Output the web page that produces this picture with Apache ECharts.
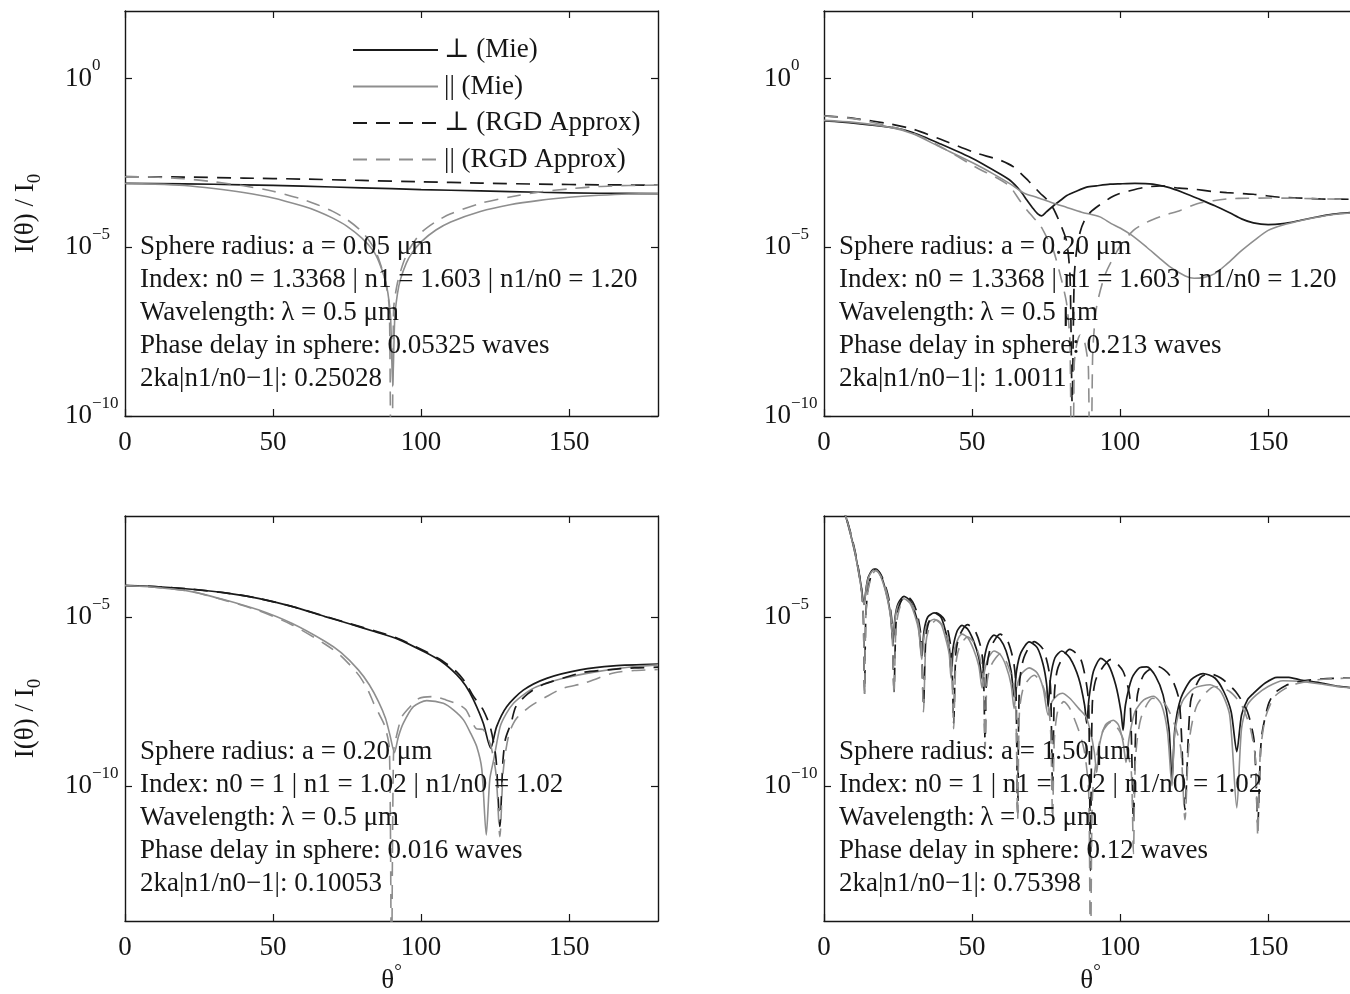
<!DOCTYPE html>
<html><head><meta charset="utf-8">
<script src="https://cdn.jsdelivr.net/npm/echarts@6/dist/echarts.min.js"></script>
<style>html,body{margin:0;padding:0;background:#fff}#c{width:1350px;height:994px}</style>
</head><body><div id="c"></div>
<script>
// ---------------- DATA (theta in degrees, value given as log10 of I/I0) ----------------
const seriesNames = ['⊥ (Mie)', '|| (Mie)', '⊥ (RGD Approx)', '|| (RGD Approx)'];
const xTicks = [0, 50, 100, 150];
const yTicksTop = [1e-10, 1e-5, 1e0];
const yTicksBottom = [1e-10, 1e-5];

const annotTexts = [
  ['Sphere radius: a = 0.05 μm', 'Index: n0 = 1.3368 | n1 = 1.603 | n1/n0 = 1.20', 'Wavelength:\u2009λ = 0.5 μm', 'Phase delay in sphere: 0.05325 waves', '2ka|n1/n0\u22121|: 0.25028'],
  ['Sphere radius: a = 0.20 μm', 'Index: n0 = 1.3368 | n1 = 1.603 | n1/n0 = 1.20', 'Wavelength:\u2009λ = 0.5 μm', 'Phase delay in sphere: 0.213 waves', '2ka|n1/n0\u22121|: 1.0011'],
  ['Sphere radius: a = 0.20 μm', 'Index: n0 = 1 | n1 = 1.02 | n1/n0 = 1.02', 'Wavelength:\u2009λ = 0.5 μm', 'Phase delay in sphere: 0.016 waves', '2ka|n1/n0\u22121|: 0.10053'],
  ['Sphere radius: a = 1.50 μm', 'Index: n0 = 1 | n1 = 1.02 | n1/n0 = 1.02', 'Wavelength:\u2009λ = 0.5 μm', 'Phase delay in sphere: 0.12 waves', '2ka|n1/n0\u22121|: 0.75398']
];

// Panel 1: a = 0.05 um, n1/n0 = 1.20
const p1PerpMie = [[0,-3.11],[20,-3.12],[40,-3.15],[60,-3.19],[80,-3.24],[100,-3.29],[120,-3.33],[140,-3.37],[160,-3.40],[180,-3.41]];
const p1ParMie = [[0,-3.11],[10,-3.13],[20,-3.17],[30,-3.26],[40,-3.38],[50,-3.54],[60,-3.78],[65,-3.93],[70,-4.13],[75,-4.38],[80,-4.73],[83.8,-5.1],[85.8,-5.44],[87.8,-5.95],[88.8,-6.37],[89.7,-7.1],[90.4,-9.13],[91.1,-7.1],[92,-6.38],[93,-5.96],[95,-5.47],[97,-5.16],[100,-4.84],[105,-4.49],[110,-4.25],[120,-3.94],[130,-3.74],[140,-3.61],[150,-3.52],[160,-3.46],[170,-3.42],[180,-3.41]];
const p1PerpRGD = [[0,-2.91],[20,-2.92],[40,-2.95],[60,-2.98],[80,-3.02],[100,-3.06],[120,-3.10],[140,-3.13],[160,-3.15],[180,-3.16]];
const p1ParRGD = [[0,-2.91],[10,-2.92],[20,-2.97],[30,-3.06],[40,-3.18],[50,-3.34],[60,-3.58],[65,-3.74],[70,-3.93],[75,-4.18],[80,-4.54],[84,-5.01],[86,-5.43],[88,-6.04],[89.3,-6.85],[90,-16],[90.7,-6.86],[92,-6.06],[94,-5.46],[96,-5.06],[100,-4.57],[105,-4.24],[110,-4.01],[120,-3.70],[130,-3.51],[140,-3.36],[150,-3.27],[160,-3.20],[170,-3.17],[180,-3.16]];

// Panel 2: a = 0.20 um, n1/n0 = 1.20
const p2PerpMie = [[0,-1.26],[10,-1.32],[22.5,-1.45],[30,-1.6],[39.4,-1.94],[50.7,-2.39],[59.5,-2.83],[63,-3.03],[66.2,-3.32],[68.5,-3.6],[70.7,-3.86],[72.3,-4.02],[73.5,-4.07],[75,-3.96],[77.5,-3.77],[80,-3.6],[82,-3.47],[85,-3.35],[88.7,-3.22],[92,-3.18],[96.6,-3.13],[100,-3.12],[105,-3.11],[111,-3.13],[116,-3.22],[121,-3.37],[126,-3.55],[132,-3.77],[137,-3.98],[141,-4.16],[145,-4.28],[150,-4.33],[155,-4.30],[160,-4.22],[166,-4.11],[172,-4.02],[180,-3.96]];
const p2ParMie = [[0,-1.24],[10,-1.3],[22.5,-1.45],[30,-1.64],[39.4,-2.04],[50.7,-2.52],[57,-2.82],[63,-3.13],[67.6,-3.4],[71.8,-3.52],[77,-3.68],[82,-3.82],[87,-3.96],[93.2,-4.1],[97,-4.3],[100,-4.43],[104,-4.65],[109,-5.0],[113,-5.3],[117,-5.59],[122,-5.85],[125,-5.92],[128,-5.9],[132,-5.78],[136,-5.5],[141,-5.1],[146,-4.75],[150,-4.5],[155,-4.34],[160,-4.23],[166,-4.12],[172,-4.03],[180,-3.97]];
const p2PerpRGD = [[0,-1.11],[10,-1.18],[22.5,-1.35],[30,-1.5],[39.4,-1.8],[50.7,-2.19],[59.5,-2.42],[64,-2.62],[69,-3.03],[73,-3.4],[75.2,-3.58],[77.5,-3.86],[80.3,-4.41],[82,-4.85],[83.1,-5.9],[83.8,-9.6],[84.5,-5.9],[85.3,-5.1],[86.5,-4.55],[88,-4.2],[90,-3.96],[92.7,-3.77],[97,-3.52],[99.4,-3.42],[102.3,-3.35],[108,-3.23],[113.5,-3.18],[120,-3.25],[125,-3.28],[131.5,-3.35],[136,-3.38],[145,-3.43],[154,-3.52],[160,-3.54],[168,-3.57],[180,-3.58]];
const p2ParRGD = [[0,-1.11],[10,-1.19],[22.5,-1.42],[30,-1.62],[39.4,-2.02],[50.7,-2.6],[59.5,-3.0],[62.8,-3.2],[66,-3.6],[69,-3.95],[73,-4.35],[75.2,-4.7],[77.5,-5.1],[80.3,-6.0],[82,-6.7],[83.1,-7.9],[83.8,-16],[84.5,-8.5],[85.3,-7.9],[86.5,-7.6],[88,-7.8],[89.3,-8.6],[90,-16],[90.7,-8.3],[92,-6.8],[95,-5.8],[100,-4.97],[104.5,-4.5],[109,-4.26],[114.7,-4.06],[120.3,-3.91],[126,-3.71],[131.5,-3.62],[137,-3.56],[143,-3.55],[150,-3.54],[160,-3.55],[170,-3.57],[180,-3.58]];

// Panel 3: a = 0.20 um, n1/n0 = 1.02
const p3PerpMie = [[0,-4.06],[10,-4.09],[22.5,-4.17],[35,-4.29],[45,-4.44],[56,-4.67],[67.6,-4.98],[76,-5.2],[84.5,-5.43],[92,-5.64],[101.4,-6.04],[107,-6.32],[112,-6.7],[115,-7.02],[117.7,-7.45],[121,-8.14],[123.5,-8.88],[125.5,-8.24],[128.9,-7.65],[134.5,-7.16],[142.4,-6.81],[153.7,-6.56],[165,-6.44],[180,-6.39]];
const p3ParMie = [[0,-4.06],[10,-4.11],[22.5,-4.24],[33.8,-4.49],[45,-4.78],[56.3,-5.18],[67.6,-5.72],[73,-6.05],[78.8,-6.56],[82.5,-7.0],[85.6,-7.5],[88,-8.0],[89.5,-8.5],[91,-9.01],[92.3,-8.55],[94,-8.14],[97.4,-7.65],[101.9,-7.47],[107.5,-7.55],[111,-7.75],[114.3,-8.04],[116.8,-8.45],[118.8,-8.84],[120.5,-9.5],[122,-11.45],[123.2,-9.8],[124.5,-9.23],[126.7,-8.24],[128.8,-7.85],[131.2,-7.55],[135,-7.27],[139,-7.06],[148,-6.81],[159.4,-6.61],[170,-6.48],[180,-6.41]];
const p3PerpRGD = [[0,-4.06],[10,-4.09],[22.5,-4.17],[35,-4.29],[45,-4.44],[56,-4.67],[67.6,-4.97],[76,-5.19],[84.5,-5.41],[92,-5.62],[101.4,-6.01],[107,-6.28],[112,-6.62],[115,-6.94],[117.7,-7.35],[121,-7.75],[123.5,-8.3],[125.3,-9.2],[126.6,-11.2],[127.6,-9.3],[128.5,-8.6],[130.4,-8.13],[132,-7.65],[136,-7.27],[141,-7.0],[148,-6.8],[155,-6.63],[164,-6.55],[172,-6.5],[180,-6.48]];
const p3ParRGD = [[0,-4.06],[10,-4.11],[22.5,-4.24],[33.8,-4.5],[45,-4.8],[56.3,-5.22],[67.6,-5.8],[73,-6.15],[78.8,-6.7],[82,-7.15],[84,-7.55],[86,-7.9],[87.8,-8.24],[89.3,-8.9],[90,-16],[90.7,-9.0],[92,-8.4],[93.5,-7.95],[96.3,-7.65],[99.4,-7.4],[104,-7.35],[108.4,-7.45],[113,-7.6],[115.2,-7.75],[118.6,-8.3],[121,-8.33],[123.5,-8.8],[125.3,-9.65],[126.6,-11.5],[127.6,-9.7],[128.5,-9.0],[129.9,-8.4],[132.2,-8.0],[136.7,-7.65],[142.4,-7.35],[148,-7.1],[154.8,-6.96],[165,-6.65],[172,-6.58],[180,-6.55]];

// Panel 4: a = 1.50 um, n1/n0 = 1.02
const p4PerpMie = [[0,-1.05],[2,-1.15],[4,-1.35],[6,-1.7],[7.3,-2.0],[9,-2.55],[10.5,-3.1],[11.5,-3.55],[12.5,-4.05],[13.5,-4.62],[14.3,-4.1],[15,-3.8],[16.9,-3.57],[18.5,-3.65],[20,-3.95],[21.5,-4.45],[22.5,-4.95],[23.3,-5.71],[24,-5.0],[25,-4.6],[27,-4.38],[29,-4.5],[30.5,-4.8],[32,-5.3],[33,-6.15],[33.8,-5.4],[35,-5.0],[37.2,-4.87],[39.5,-5.0],[41,-5.4],[42.3,-5.9],[42.9,-6.6],[43.6,-5.9],[45,-5.4],[46.6,-5.24],[48.5,-5.35],[50.5,-5.7],[52.3,-6.2],[53.4,-6.83],[54.2,-6.2],[55.5,-5.75],[57.4,-5.53],[59.5,-5.65],[61.5,-6.0],[63.2,-6.6],[64.2,-7.36],[65,-6.6],[66.5,-6.05],[69.3,-5.73],[72,-5.9],[74,-6.4],[75.2,-7.0],[75.7,-7.65],[76.5,-6.8],[78,-6.2],[80.3,-6.0],[83,-6.2],[86,-6.8],[88,-7.6],[88.7,-8.14],[89.5,-7.4],[91,-6.6],[93.5,-6.22],[96,-6.4],[98.5,-7.0],[100.3,-7.8],[101,-8.35],[101.8,-7.6],[104,-6.8],[106.5,-6.5],[109,-6.47],[112,-6.75],[114.5,-7.3],[116.5,-8.3],[117.5,-9.82],[118.5,-8.3],[120.5,-7.4],[124,-6.85],[128,-6.67],[132,-6.8],[135,-7.2],[137.5,-7.8],[139.4,-8.98],[141,-7.9],[143,-7.45],[145,-7.26],[149,-6.95],[153,-6.78],[157,-6.78],[161,-6.86],[168,-6.95],[174,-7.05],[180,-7.1]];
const p4ParMie = [[0,-1.05],[2,-1.15],[4,-1.35],[6,-1.7],[7.3,-2.0],[9,-2.56],[10.5,-3.12],[11.5,-3.58],[12.5,-4.1],[13.5,-4.62],[14.3,-4.12],[15,-3.83],[16.9,-3.6],[18.5,-3.68],[20,-3.99],[21.5,-4.5],[22.5,-5.0],[23.3,-5.75],[24,-5.05],[25,-4.66],[27,-4.45],[29,-4.58],[30.5,-4.9],[32,-5.4],[33,-6.25],[33.8,-5.55],[35,-5.18],[37.2,-5.06],[39.5,-5.2],[41,-5.6],[42.3,-6.1],[42.9,-6.8],[43.6,-6.15],[45,-5.7],[46.6,-5.5],[48.5,-5.6],[50.5,-5.95],[52.3,-6.45],[53.4,-7.1],[54.2,-6.6],[55.5,-6.2],[57.4,-6.0],[59.5,-6.1],[61.5,-6.45],[63.2,-7.0],[64.2,-7.7],[65,-7.1],[66.5,-6.7],[69.3,-6.5],[72,-6.65],[74,-7.1],[75.7,-7.9],[77,-7.5],[79,-7.3],[80.5,-7.25],[83,-7.4],[86,-7.7],[88.5,-7.95],[90,-8.4],[91.3,-9.0],[92.1,-9.6],[93,-8.8],[95,-8.2],[97.7,-8.05],[99.5,-8.2],[101,-8.7],[102,-9.3],[103,-8.6],[105,-7.8],[108,-7.45],[111.3,-7.34],[114,-7.6],[116,-8.4],[117.5,-10.0],[118.5,-8.4],[121,-7.5],[125,-7.1],[130.4,-7.0],[134,-7.2],[137,-7.9],[139.4,-10.65],[141,-8.3],[143,-7.6],[146,-7.3],[150,-7.05],[155,-6.88],[161,-6.9],[168,-6.98],[174,-7.06],[180,-7.1]];
const p4PerpRGD = [[0,-1.0],[2,-1.1],[4,-1.3],[6,-1.65],[7.3,-1.98],[9,-2.5],[10.5,-3.05],[11.7,-3.6],[12.7,-4.2],[13.3,-5.0],[13.7,-7.25],[14.1,-5.0],[14.8,-4.2],[16,-3.75],[17.5,-3.57],[19,-3.7],[20.5,-4.0],[22,-4.5],[23,-5.2],[23.65,-7.2],[24.3,-5.2],[25.3,-4.7],[26.5,-4.45],[28,-4.38],[30,-4.55],[31.5,-4.9],[32.8,-5.6],[33.6,-7.65],[34.4,-5.6],[35.6,-5.1],[38,-4.87],[40.5,-5.05],[42,-5.45],[43.1,-6.1],[43.8,-8.14],[44.5,-6.1],[45.7,-5.55],[48.5,-5.22],[51,-5.4],[53,-5.9],[53.8,-6.5],[54.4,-8.64],[55,-6.5],[56.3,-5.9],[59.5,-5.5],[62,-5.7],[64,-6.3],[64.8,-7.0],[65.4,-10.8],[66,-7.0],[67.5,-6.2],[71,-5.72],[74,-5.95],[76,-6.6],[76.6,-7.3],[77.2,-10.2],[77.8,-7.3],[79,-6.5],[83,-5.95],[86.5,-6.2],[88.5,-6.9],[89.4,-7.6],[90,-12.5],[90.6,-7.6],[92,-6.8],[97,-6.25],[101,-6.6],[103.3,-7.4],[104.5,-11],[105.7,-7.4],[108,-6.7],[112.5,-6.45],[117,-6.75],[120,-7.5],[121.9,-10.7],[123.8,-7.5],[127,-6.8],[130,-6.67],[134,-6.8],[139,-7.2],[143,-7.8],[145.3,-8.7],[146.5,-11.1],[147.7,-8.6],[150,-7.6],[152,-7.26],[156,-7.02],[160,-6.91],[166,-6.84],[172,-6.81],[180,-6.8]];
const p4ParRGD = [[0,-1.0],[2,-1.1],[4,-1.31],[6,-1.67],[7.3,-2.0],[9,-2.52],[10.5,-3.08],[11.7,-3.64],[12.7,-4.24],[13.3,-5.05],[13.7,-7.3],[14.1,-5.05],[14.8,-4.25],[16,-3.79],[17.5,-3.61],[19,-3.75],[20.5,-4.06],[22,-4.57],[23,-5.28],[23.65,-7.3],[24.3,-5.3],[25.3,-4.8],[26.5,-4.55],[28,-4.49],[30,-4.68],[31.5,-5.05],[32.8,-5.77],[33.6,-7.8],[34.4,-5.78],[35.6,-5.3],[38,-5.08],[40.5,-5.3],[42,-5.72],[43.1,-6.4],[43.8,-8.3],[44.5,-6.42],[45.7,-5.9],[48.5,-5.58],[51,-5.8],[53,-6.35],[53.8,-6.98],[54.4,-8.9],[55,-7.0],[56.3,-6.45],[59.5,-6.09],[62,-6.4],[64,-7.0],[64.8,-7.75],[65.4,-11],[66,-7.8],[67.5,-7.05],[71,-6.72],[74,-7.05],[76,-7.8],[76.6,-8.5],[77.2,-11],[77.8,-8.6],[79,-7.75],[81,-7.5],[83,-7.7],[86,-8.35],[88,-9.0],[89.4,-10.2],[90,-16],[90.6,-10.4],[92,-9.2],[94,-8.4],[97,-8.1],[100,-8.4],[102.5,-9.0],[103.8,-9.6],[104.5,-12],[105.2,-9.2],[107,-8.0],[111,-7.4],[115,-7.55],[118.5,-8.2],[120.5,-8.9],[121.9,-11],[123.3,-8.7],[126,-7.6],[132,-7.05],[137,-7.2],[141,-7.6],[144,-8.3],[145.7,-9.2],[146.5,-11.5],[147.3,-9.1],[149,-8.0],[152,-7.37],[156,-7.1],[160,-6.96],[166,-6.86],[172,-6.82],[180,-6.8]];

const panelSeries = [
  [p1PerpMie, p1ParMie, p1PerpRGD, p1ParRGD],
  [p2PerpMie, p2ParMie, p2PerpRGD, p2ParRGD],
  [p3PerpMie, p3ParMie, p3PerpRGD, p3ParRGD],
  [p4PerpMie, p4ParMie, p4PerpRGD, p4ParRGD]
];

// ---------------- LAYOUT / STYLE ----------------
const FONT = "'Liberation Serif', 'DejaVu Serif', serif";
const INK = '#161616';
const BLACK = '#1a1a1a';
const GRAY = '#8e8e8e';
const FS = 27;
const grids = [
  {left: 125, top: 11, width: 533, height: 405},
  {left: 824, top: 11, width: 533, height: 405},
  {left: 125, top: 516, width: 533, height: 405},
  {left: 824, top: 516, width: 533, height: 405}
];
const yRanges = [[1e-10, 1e2], [1e-10, 1e2], [1e-14, 1e-2], [1e-14, 1e-2]];
const yTickSets = [yTicksTop, yTicksTop, yTicksBottom, yTicksBottom];
const styles = [
  {color: BLACK, type: 'solid', width: 1.7},
  {color: GRAY, type: 'solid', width: 1.6},
  {color: BLACK, type: [14, 9], width: 1.7},
  {color: GRAY, type: [14, 9], width: 1.6}
];

function yLabelFmt(v) {
  const e = Math.round(Math.log10(v));
  return '{b|10}{s|' + (e < 0 ? '\u2212' + (-e) : String(e)) + '}';
}
const yRich = {
  b: {fontSize: FS, fontFamily: FONT, color: INK, lineHeight: 42},
  s: {fontSize: 17, fontFamily: FONT, color: INK, verticalAlign: 'top'}
};
const axisLineStyle = {show: true, onZero: false, lineStyle: {color: INK, width: 1.4}};

const xAxes = [], yAxes = [], series = [], graphics = [];
grids.forEach((g, i) => {
  const yTicks = yTickSets[i];
  xAxes.push({
    type: 'value', gridIndex: i, min: 0, max: 180, position: 'bottom',
    axisLine: axisLineStyle,
    axisTick: {show: true, inside: true, length: 7, customValues: xTicks, lineStyle: {color: INK, width: 1.2}},
    axisLabel: {show: true, customValues: xTicks, fontSize: FS, fontFamily: FONT, color: INK, margin: 13},
    splitLine: {show: false},
    name: i >= 2 ? '{a|θ}{b|°}' : '',
    nameLocation: 'middle', nameGap: 42,
    nameTextStyle: {rich: {
      a: {fontSize: FS, fontFamily: FONT, color: INK, lineHeight: 36},
      b: {fontSize: 19, fontFamily: FONT, color: INK, verticalAlign: 'top'}
    }}
  });
  xAxes.push({
    type: 'value', gridIndex: i, min: 0, max: 180, position: 'top',
    axisLine: axisLineStyle,
    axisTick: {show: true, inside: true, length: 7, customValues: xTicks, lineStyle: {color: INK, width: 1.2}},
    axisLabel: {show: false}, splitLine: {show: false}
  });
  yAxes.push({
    type: 'log', logBase: 10, gridIndex: i, min: yRanges[i][0], max: yRanges[i][1], position: 'left',
    axisLine: axisLineStyle,
    axisTick: {show: true, inside: true, length: 7, customValues: yTicks, lineStyle: {color: INK, width: 1.2}},
    minorTick: {show: false},
    axisLabel: {show: true, customValues: yTicks, formatter: yLabelFmt, rich: yRich, margin: 60, align: 'left'},
    splitLine: {show: false},
    name: (i % 2 === 0) ? '{a|I(θ) / I}{b|0}' : '',
    nameLocation: 'middle', nameRotate: 90, nameGap: 80,
    nameTextStyle: {rich: {
      a: {fontSize: FS, fontFamily: FONT, color: INK, lineHeight: 38},
      b: {fontSize: 19, fontFamily: FONT, color: INK, verticalAlign: 'bottom'}
    }}
  });
  yAxes.push({
    type: 'log', logBase: 10, gridIndex: i, min: yRanges[i][0], max: yRanges[i][1], position: 'right',
    axisLine: axisLineStyle,
    axisTick: {show: true, inside: true, length: 7, customValues: yTicks, lineStyle: {color: INK, width: 1.2}},
    minorTick: {show: false},
    axisLabel: {show: false}, splitLine: {show: false}
  });
  panelSeries[i].forEach((arr, j) => {
    series.push({
      name: seriesNames[j], type: 'line', xAxisIndex: 2 * i, yAxisIndex: 2 * i,
      symbol: 'none', showSymbol: false, smooth: 0.25, clip: true, silent: true,
      data: arr.map(p => [p[0], Math.pow(10, p[1])]),
      lineStyle: {color: styles[j].color, width: styles[j].width, type: styles[j].type},
      itemStyle: {color: styles[j].color},
      z: 2 + j
    });
  });
  graphics.push({
    type: 'text', x: g.left + 15, y: g.top + 219, z: 100, silent: true,
    style: {
      text: annotTexts[i].join('\n'), fontSize: FS, fontFamily: FONT,
      fill: INK, lineHeight: 33, verticalAlign: 'top', align: 'left'
    }
  });
});

const chart = echarts.init(document.getElementById('c'), null, {renderer: 'canvas'});
chart.setOption({
  backgroundColor: '#ffffff',
  animation: false,
  grid: grids.map(g => Object.assign({containLabel: false, outerBoundsMode: 'none'}, g)),
  xAxis: xAxes,
  yAxis: yAxes,
  legend: {
    data: seriesNames, orient: 'vertical', left: 352, top: 35, padding: 0,
    itemWidth: 85, itemHeight: 14, itemGap: 6.5, selectedMode: false,
    itemStyle: {opacity: 0, color: 'rgba(0,0,0,0)', borderWidth: 0},
    textStyle: {fontSize: FS, fontFamily: FONT, color: INK, lineHeight: 30, padding: [0, 0, 0, 1]}
  },
  graphic: graphics,
  series: series
});
</script>
</body></html>
